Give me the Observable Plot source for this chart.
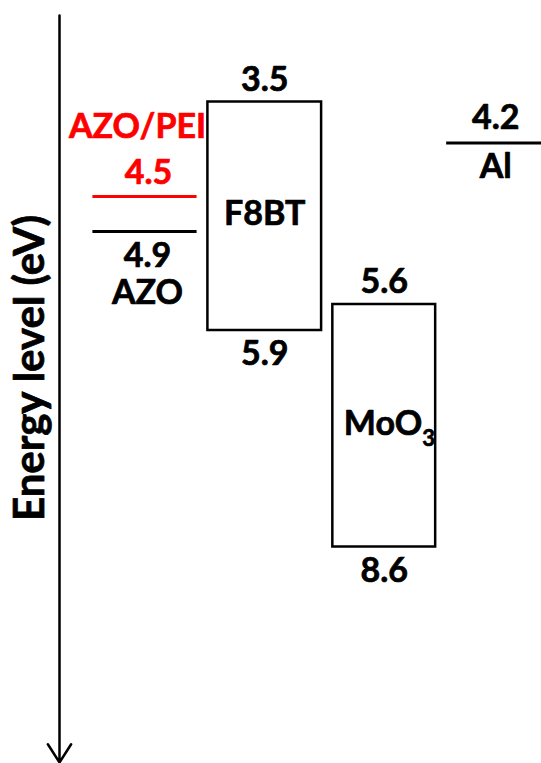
<!DOCTYPE html>
<html>
<head>
<meta charset="utf-8">
<script src="https://cdn.jsdelivr.net/npm/d3@7"></script>
<script src="https://cdn.jsdelivr.net/npm/@observablehq/plot@0.6"></script>
<style>
  body { margin: 0; background: #fff; }
  #chart svg { display: block; }
</style>
</head>
<body>
<div id="chart"></div>
<script>
// Electrode work functions (single energy levels, eV)
const levelNames = ["AZO/PEI", "AZO", "Al"];
const levelValues = [4.5, 4.9, 4.2];
const levelColumns = [0, 0, 3];

// Semiconductor bands: upper edge and lower edge (eV)
const bandNames = ["F8BT", "MoO3"];
const bandTop = [3.5, 5.6];
const bandBottom = [5.9, 8.6];
const bandColumns = [1, 2];

const axisLabel = "Energy level (eV)";
const axisEnds = [2.6, 11.3];

// Schematic (non-uniform) energy axis, increasing downward:
// energies are mapped piecewise onto a depth coordinate
const energyKnots = [2.6, 3.5, 4.2, 4.5, 4.9, 5.6, 5.9, 8.6, 11.3];
const energyDepth = [15, 101.5, 142.5, 196, 231, 304, 330, 546.5, 762];
const depthOf = d3.scaleLinear(energyKnots, energyDepth);

// Column layout: column i spans [i, i + 1]; the arrow sits left of column 0
const axisPos = -0.25;
const columnKnots = [axisPos, 0, 1, 2, 3, 4];
const columnEdges = [59, 86.5, 201.5, 327, 440.5, 550];
const across = d3.scaleLinear(columnKnots, columnEdges);

const font = "Lato, 'Open Sans', sans-serif";
const size = 34;
const pad = 0.047;      // gap between neighbouring columns (column units)
const RED = "#ff0000";
const heavy = { fontWeight: "bold", strokeWidth: 0.7 };

const levelIdx = d3.range(levelNames.length);
const bandIdx = d3.range(bandNames.length);

function levelLabel(i, text, dx, dy, color) {
  return Plot.text([i], {
    x: (j) => levelColumns[j] + 0.5,
    y: (j) => levelValues[j],
    text: () => text,
    dx, dy, fill: color, stroke: color,
    fontSize: size, ...heavy
  });
}

function bandLabel(values, dy) {
  return Plot.text(bandIdx, {
    x: (i) => bandColumns[i] + 0.5,
    y: (i) => values[i],
    text: (i) => values[i].toFixed(1),
    dy, fill: "black", stroke: "black",
    fontSize: size, ...heavy
  });
}

// split a formula like "MoO3" into its base and its trailing subscript
const baseOf = (n) => n.replace(/\d+$/, "");
const subOf = (n) => (n.match(/\d+$/) || [""])[0];
const hasSub = (i) => subOf(bandNames[i]) !== "";
const mid = (i) => (bandTop[i] + bandBottom[i]) / 2;

const chart = Plot.plot({
  width: 541,
  height: 763,
  margin: 0,
  style: { fontFamily: font, background: "#fff" },
  x: { type: "linear", transform: across, domain: [0, 541], range: [0, 541], axis: null },
  y: { type: "linear", transform: depthOf, domain: [0, 763], range: [0, 763], axis: null },
  marks: [
    // energy axis arrow
    Plot.arrow([0], {
      x1: () => axisPos, x2: () => axisPos,
      y1: () => axisEnds[0], y2: () => axisEnds[1],
      stroke: "black", strokeWidth: 2.5, headLength: 13, headAngle: 65
    }),
    Plot.text([axisLabel], {
      frameAnchor: "left", textAnchor: "middle", text: (d) => d, rotate: -90,
      dx: 30, dy: -14, fontSize: 42, fill: "black", stroke: "black", ...heavy
    }),

    // band boxes
    Plot.rect(bandIdx, {
      x1: (i) => bandColumns[i] + pad,
      x2: (i) => bandColumns[i] + 1 - pad,
      y1: (i) => bandTop[i],
      y2: (i) => bandBottom[i],
      fill: "none", stroke: "black", strokeWidth: 2.5
    }),
    bandLabel(bandTop, -22),
    bandLabel(bandBottom, 24),
    // band names inside the boxes (with chemical subscripts)
    Plot.text(bandIdx.filter((i) => !hasSub(i)), {
      x: (i) => bandColumns[i] + 0.5, y: mid,
      text: (i) => bandNames[i],
      fontSize: size, fill: "black", stroke: "black", ...heavy
    }),
    Plot.text(bandIdx.filter(hasSub), {
      x: (i) => bandColumns[i] + 0.5, y: mid,
      text: (i) => baseOf(bandNames[i]),
      textAnchor: "end", dx: 38, dy: -3,
      fontSize: size, fill: "black", stroke: "black", ...heavy
    }),
    Plot.text(bandIdx.filter(hasSub), {
      x: (i) => bandColumns[i] + 0.5, y: mid,
      text: (i) => subOf(bandNames[i]),
      textAnchor: "start", dx: 38, dy: 12,
      fontSize: 22, fill: "black", stroke: "black", ...heavy
    }),

    // electrode levels
    Plot.link(levelIdx, {
      x1: (i) => levelColumns[i] + pad,
      x2: (i) => levelColumns[i] + 1 - pad,
      y1: (i) => levelValues[i],
      y2: (i) => levelValues[i],
      stroke: (i) => (levelNames[i] === "AZO/PEI" ? RED : "black"),
      strokeWidth: 3
    }),
    levelLabel(0, levelNames[0], -7, -69, RED),
    levelLabel(0, levelValues[0].toFixed(1), 4, -23, RED),
    levelLabel(1, levelValues[1].toFixed(1), 3, 25, "black"),
    levelLabel(1, levelNames[1], 3, 62, "black"),
    levelLabel(2, levelValues[2].toFixed(1), 0, -25, "black"),
    levelLabel(2, levelNames[2], 0, 24, "black")
  ]
});

document.getElementById("chart").append(chart);
</script>
</body>
</html>
